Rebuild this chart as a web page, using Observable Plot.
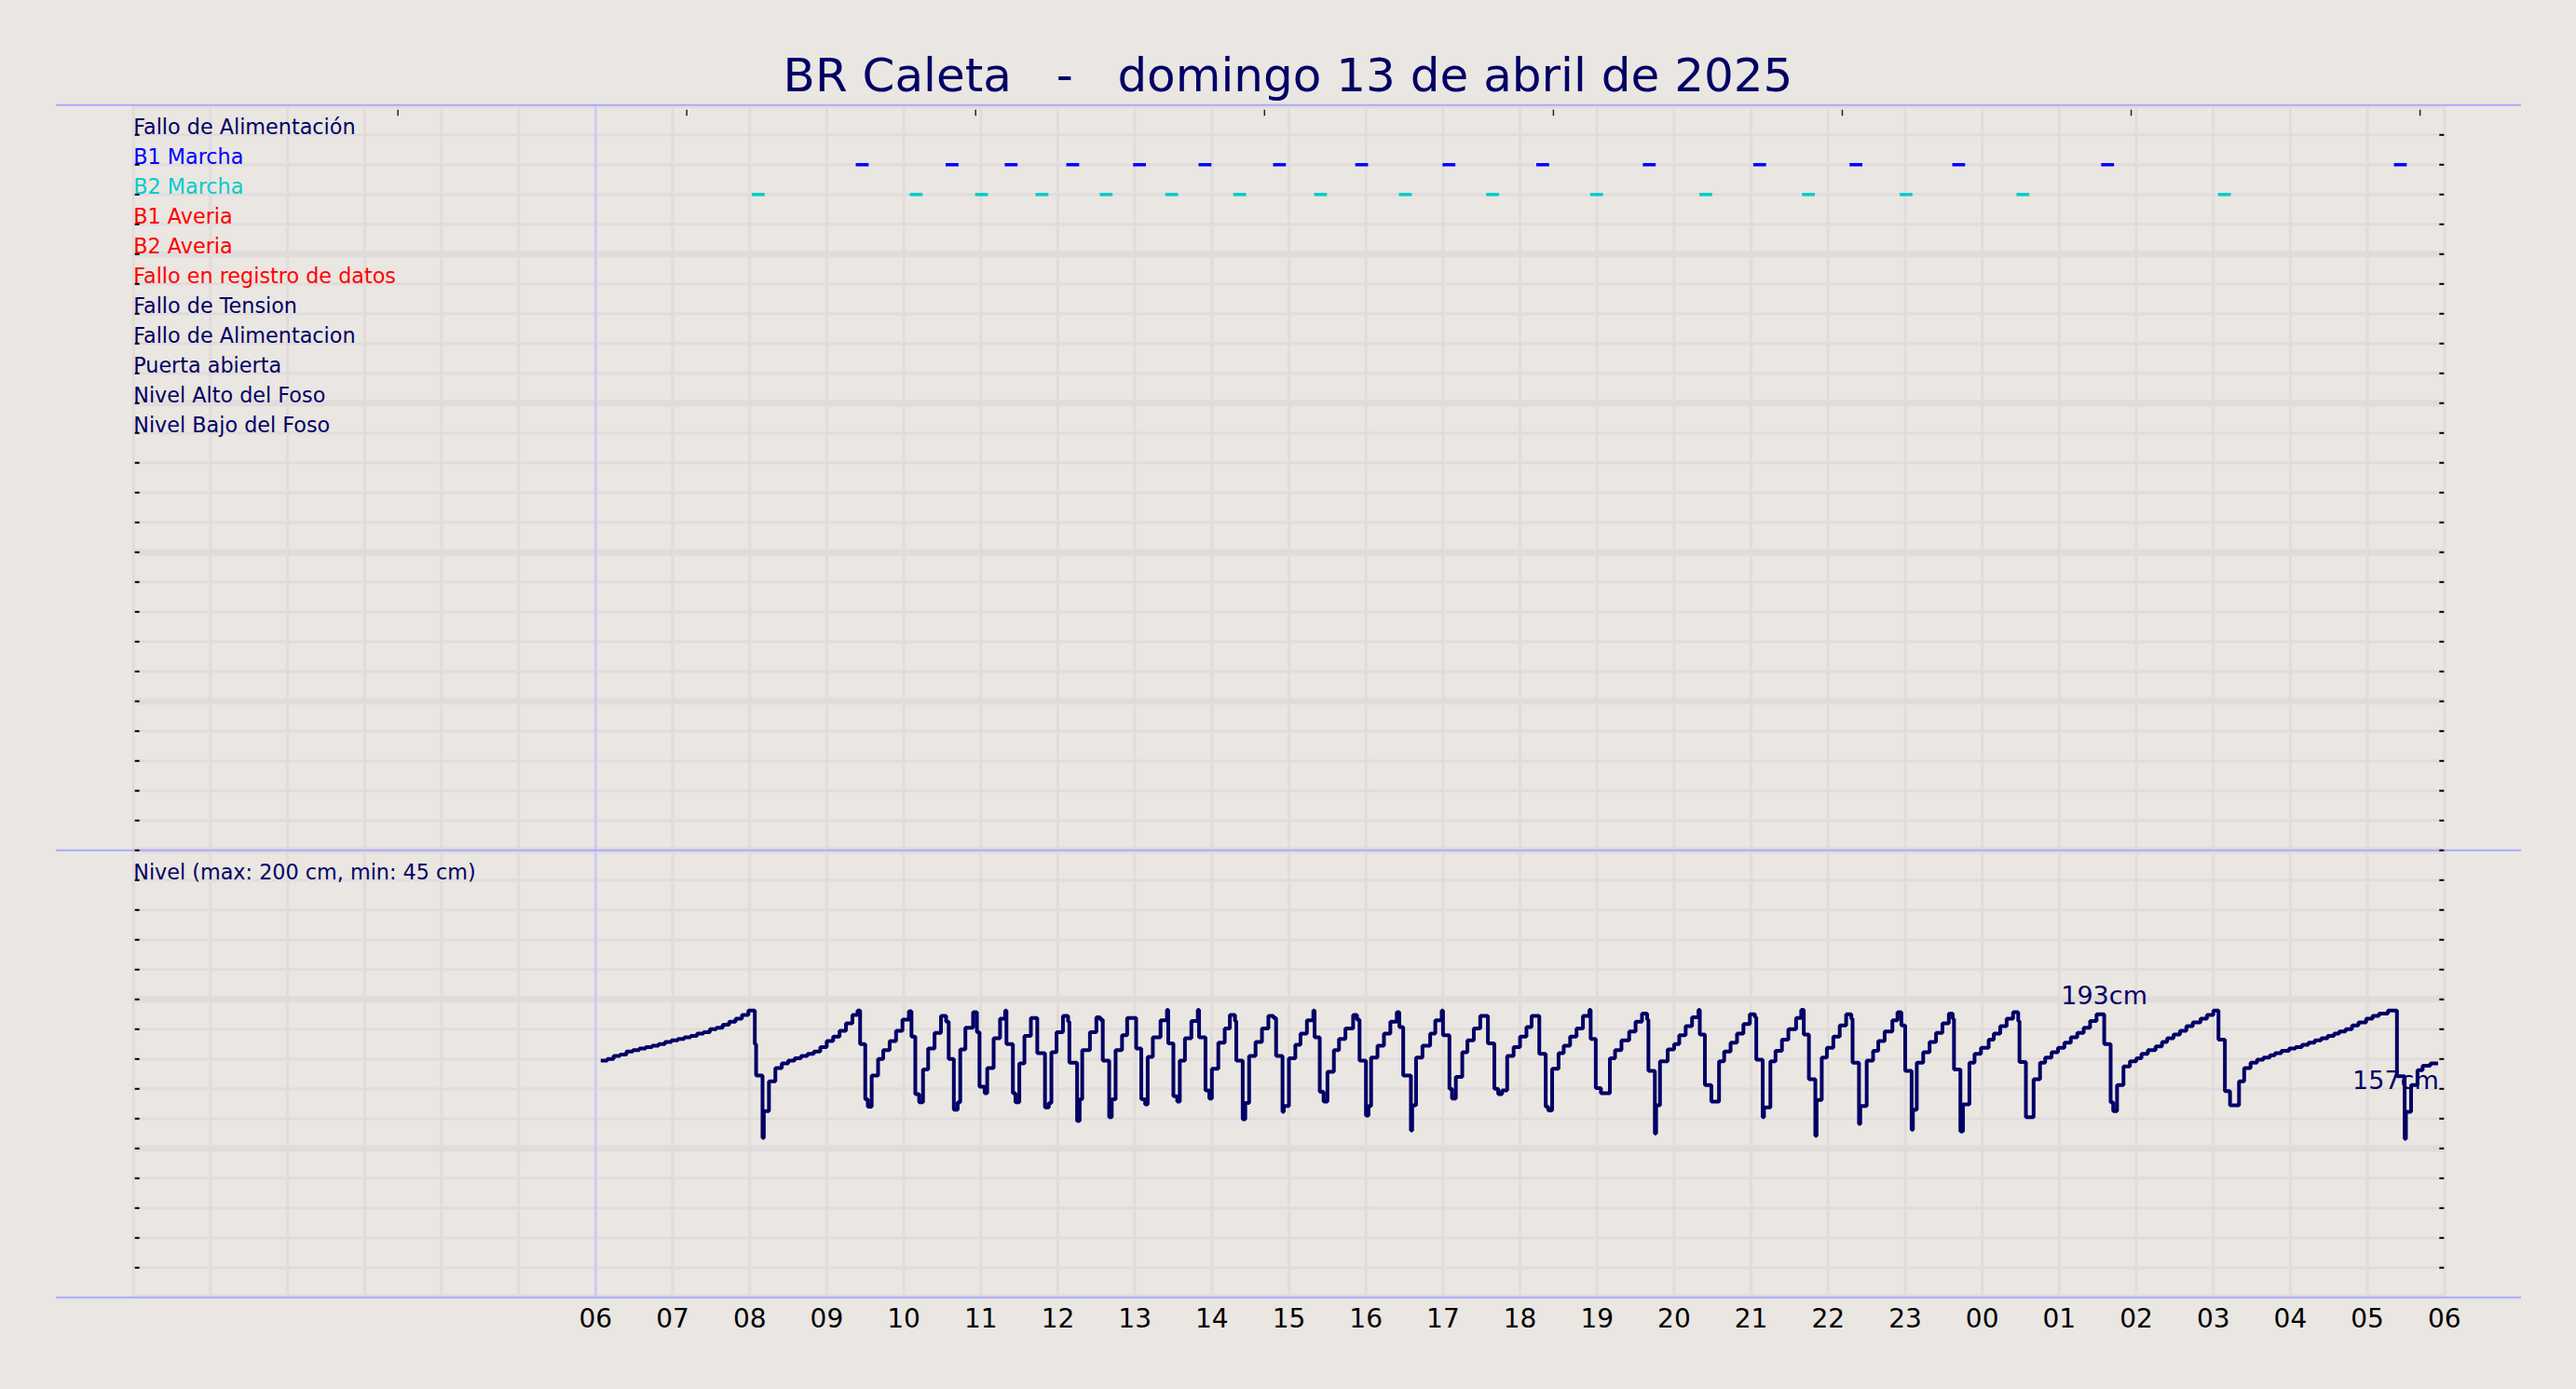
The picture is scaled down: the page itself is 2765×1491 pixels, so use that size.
<!DOCTYPE html>
<html>
<head>
<meta charset="utf-8">
<script src="https://cdn.jsdelivr.net/npm/d3@7"></script>
<script src="https://cdn.jsdelivr.net/npm/@observablehq/plot@0.6"></script>
<style>
html, body { margin: 0; padding: 0; background: #eae6e1; overflow: hidden; }
#titulo { height: 100px; box-sizing: border-box; padding-top: 52px; line-height: 58px;
  font-family: "DejaVu Sans"; font-size: 50px; color: #000066; text-align: center;
  white-space: pre; overflow: visible; }
#grafico svg { display: block; }
</style>
</head>
<body>
<div id="titulo"></div>
<div id="grafico"></div>
<script>
// ---------- data ----------
const titulo = "BR Caleta   -   domingo 13 de abril de 2025";

const filas = ["Fallo de Alimentación", "B1 Marcha", "B2 Marcha", "B1 Averia", "B2 Averia",
  "Fallo en registro de datos", "Fallo de Tension", "Fallo de Alimentacion", "Puerta abierta",
  "Nivel Alto del Foso", "Nivel Bajo del Foso"];
const colorFila = ["#000066", "#0000ff", "#00cccc", "#ff0000", "#ff0000", "#ff0000",
  "#000066", "#000066", "#000066", "#000066", "#000066"];
const etiquetaNivel = "Nivel (max: 200 cm, min: 45 cm)";

const b1Inicio = "09:23 10:33 11:19 12:07 12:59 13:50 14:48 15:52 17:00 18:13 19:36 21:02 22:17 23:37 01:33 05:21".split(" ");
const b1Fin    = "09:33 10:43 11:29 12:17 13:09 14:00 14:58 16:02 17:10 18:23 19:46 21:12 22:27 23:47 01:43 05:31".split(" ");
const b2Inicio = "08:02 10:05 10:56 11:43 12:33 13:24 14:17 15:20 16:26 17:34 18:55 20:20 21:40 22:56 00:27 03:04".split(" ");
const b2Fin    = "08:12 10:15 11:06 11:53 12:43 13:34 14:27 15:30 16:36 17:44 19:05 20:30 21:50 23:06 00:37 03:14".split(" ");

const nivelHora = [
  "06:04 06:09 06:14 06:19 06:24 06:29 06:34 06:39 06:44 06:49 06:54 06:59",
  "07:04 07:09 07:14 07:19 07:24 07:29 07:34 07:39 07:44 07:49 07:54 07:59",
  "08:04 08:05 08:10 08:11 08:15 08:20 08:25 08:30 08:35 08:40 08:45 08:50 08:55",
  "09:00 09:05 09:10 09:15 09:20 09:24 09:26 09:30 09:32 09:35 09:40 09:44 09:49 09:54 09:59",
  "10:04 10:06 10:09 10:12 10:15 10:19 10:24 10:29 10:33 10:35 10:39 10:42 10:44 10:48 10:54 10:57 10:59",
  "11:03 11:05 11:10 11:15 11:19 11:20 11:25 11:27 11:30 11:34 11:39 11:44 11:50 11:53 11:55 11:59",
  "12:04 12:08 12:09 12:15 12:17 12:19 12:25 12:30 12:33 12:35 12:40 12:42 12:45 12:50 12:54",
  "13:01 13:05 13:08 13:10 13:14 13:20 13:25 13:26 13:30 13:33 13:35 13:39 13:44 13:49 13:50 13:55 13:58",
  "14:00 14:05 14:10 14:14 14:18 14:19 14:24 14:26 14:29 14:34 14:39 14:44 14:48 14:50 14:55 14:56",
  "15:00 15:05 15:09 15:14 15:19 15:20 15:24 15:27 15:30 15:35 15:39 15:44 15:50 15:53 15:55",
  "16:00 16:02 16:04 16:09 16:14 16:19 16:24 16:26 16:29 16:35 16:36 16:39 16:44 16:50 16:54 16:59",
  "17:00 17:05 17:07 17:10 17:15 17:19 17:24 17:29 17:35 17:40 17:43 17:46 17:50 17:55",
  "18:00 18:05 18:09 18:15 18:20 18:22 18:25 18:30 18:34 18:39 18:44 18:49 18:54 18:55 18:59",
  "19:03 19:10 19:14 19:19 19:25 19:30 19:35 19:39 19:40 19:45 19:46 19:49 19:55",
  "20:00 20:04 20:09 20:14 20:19 20:20 20:24 20:29 20:35 20:39 20:44 20:49 20:54 20:59",
  "21:03 21:04 21:09 21:10 21:15 21:19 21:24 21:29 21:35 21:39 21:41 21:45 21:50 21:51 21:55 21:59",
  "22:04 22:09 22:14 22:18 22:19 22:24 22:25 22:30 22:35 22:39 22:44 22:50 22:54 22:57",
  "23:00 23:05 23:06 23:09 23:14 23:19 23:24 23:29 23:34 23:37 23:38 23:43 23:45 23:50 23:54 23:59",
  "00:05 00:09 00:14 00:19 00:24 00:28 00:29 00:34 00:40 00:45 00:49 00:54 00:59",
  "01:04 01:09 01:14 01:19 01:24 01:29 01:35 01:40 01:42 01:45 01:50 01:55",
  "02:00 02:04 02:09 02:15 02:20 02:24 02:29 02:34 02:39 02:44 02:50 02:55",
  "03:00 03:04 03:09 03:13 03:20 03:24 03:29 03:34 03:39 03:44 03:48 03:53 03:59",
  "04:04 04:09 04:14 04:19 04:24 04:29 04:34 04:38 04:43 04:48 04:53 04:59",
  "05:04 05:09 05:16 05:23 05:29 05:30 05:34 05:39 05:43 05:49 05:55"
].join(" ").split(" ");

const nivelCm = [
  159, 160, 162, 163, 165, 166, 167, 168, 169, 170, 171.5, 172.5,
  173.5, 174.5, 175.5, 177, 178, 180, 181, 183, 185, 187, 189.5, 192.5,
  170, 149, 107, 125, 145, 154, 157, 159, 160.5, 162, 163.5, 165, 168,
  172, 175, 179, 184, 189.5, 192.5, 170, 133, 128, 149, 160, 166, 172, 179, 186.5,
  192, 175, 136.5, 131, 153, 167, 177.5, 189, 185, 160, 126, 131, 166.5, 181, 191.5, 178, 141.5,
  137, 154, 174, 187, 192.5, 170, 137, 131, 157, 175.5, 187.5, 164, 127.5, 130.5, 164.5, 178,
  189, 185, 157.5, 118.5, 133, 166, 178, 188, 186.5, 159, 121, 133, 166, 176, 187.5,
  167, 133, 129.5, 161.5, 174.5, 186, 193, 170.5, 135, 131.5, 159, 174, 185.5, 193, 174.5, 139, 133.5,
  153.5, 171, 180.5, 189.5, 185.5, 159, 119.5, 130.5, 162, 171.5, 180.5, 189, 187.5, 162, 124.5, 128.5,
  160.5, 169.5, 177, 186, 192.5, 174.5, 138, 131.5, 151.5, 166, 173.5, 180.5, 189.5, 186.5, 159,
  122, 128.5, 161, 169, 177, 185, 191.5, 181.5, 149, 112, 129, 161, 169, 177, 186, 192.5,
  176, 140, 133.5, 148, 164.5, 172.5, 180.5, 189, 170.5, 140, 136.5, 139, 162, 168,
  175, 181.5, 189, 163.5, 128, 125.5, 153.5, 164, 169, 175, 180.5, 189, 193, 173.5, 140.5,
  137, 160.5, 166, 172.5, 178.5, 185, 190.5, 186.5, 152, 110, 129, 158.5, 166.5,
  170, 176, 182, 188, 193, 176.5, 142.5, 131.5, 158.5, 165, 171, 177, 183.5, 190,
  188, 159.5, 121, 127.5, 158.5, 165.5, 173, 180, 187.5, 193, 176.5, 146.5, 108.5, 132.5, 161, 167.5,
  175, 182.5, 190, 187, 157.5, 116.5, 128.5, 159, 165.5, 172, 178.5, 186, 191.5, 182.5,
  152, 112.5, 126, 157.5, 164.5, 171.5, 177.5, 184, 190.5, 187, 153, 111.5, 129.5, 157.5, 163.5, 167.5,
  173, 177, 182, 187, 191.5, 185.5, 158, 121, 146.5, 157.5, 161, 164.5, 167.5,
  171, 174.5, 177.5, 181, 185.5, 190, 170, 131, 125, 142.5, 155, 158.5,
  160.5, 163.5, 166, 168.5, 171.5, 174, 176.5, 179, 182, 184.5, 187, 189.5,
  192.5, 173, 138.5, 129, 145, 154, 157.5, 159.5, 161, 162.5, 164, 165.5, 167,
  168, 169.5, 171, 172.5, 174, 175.5, 177, 178.5, 180, 182.5, 184.5, 187,
  189, 190.5, 192.5, 148.5, 106.5, 124.5, 142.5, 152.5, 155.5, 157, 157
];

const maxHora = ["01:35"], maxCm = [193];
const ultHora = ["05:22"], ultCm = [157];

const horasEje = d3.range(6, 31);          // bottom tick labels 06 … 06
const marcasSup = "03:26 07:11 10:56 14:41 18:26 22:11 01:56 05:41".split(" ");

// ---------- helpers ----------
const dia = h => new Date(2025, 3, 13, h);
// the data day runs 06:00 → 06:00; times earlier than the previous one roll to the next day
function aFechas(horas, inicio = 360) {
  let d = 0, prev = inicio;
  return horas.map(s => {
    const [H, M] = s.split(":").map(Number);
    const m = H * 60 + M;
    if (m < prev) d++;
    prev = m;
    return new Date(2025, 3, 13 + d, H, M);
  });
}
const filaY = i => 780 - 20 * i;

document.getElementById("titulo").textContent = titulo;

const nivel = aFechas(nivelHora).map((t, i) => ({t, v: nivelCm[i]}));
const b1F = aFechas(b1Fin), b2F = aFechas(b2Fin);
const b1 = aFechas(b1Inicio).map((ini, i) => ({ini, fin: b1F[i]}));
const b2 = aFechas(b2Inicio).map((ini, i) => ({ini, fin: b2F[i]}));
const maxMarca = aFechas(maxHora).map((t, i) => ({t, v: maxCm[i]}));
const ultMarca = aFechas(ultHora).map((t, i) => ({t, v: ultCm[i]}));

const gridColor = "#e1dcdc";
const navy = "#000066";
const ticksY = d3.range(20, 781, 20);

const chart = Plot.plot({
  width: 2765,
  height: 1391,
  marginTop: 12.3,
  marginBottom: 98.7,
  marginLeft: 142.7,
  marginRight: 141.7,
  x: {type: "time", domain: [dia(0), dia(30)]},
  y: {domain: [0, 800]},
  color: {type: "identity"},
  style: {background: "transparent", fontFamily: "DejaVu Sans", overflow: "visible"},
  marks: [
    Plot.ruleY(d3.range(0, 801, 20).filter(v => v % 100 !== 0), {y: d => d, stroke: gridColor, strokeWidth: 3, clip: true}),
    Plot.ruleY(d3.range(0, 801, 100), {y: d => d, stroke: gridColor, strokeWidth: 7, clip: true}),
    Plot.ruleX(d3.range(0, 31).map(dia), {x: d => d, y1: 0, y2: 800, stroke: gridColor, strokeWidth: 3}),
    Plot.ruleX([dia(6)], {x: d => d, y1: 0, y2: 800, stroke: "#c4c4ff", strokeWidth: 2}),
    Plot.ruleY([800, 300, 0], {y: d => d, x1: () => dia(-1), x2: () => dia(31), stroke: "#aaaaff", strokeWidth: 2}),
    Plot.axisY(ticksY, {anchor: "left", tickSize: -5, insetLeft: 2, tickFormat: () => "", label: null, color: "black", strokeWidth: 2}),
    Plot.axisY(ticksY, {anchor: "right", tickSize: -5, insetRight: 1, tickFormat: () => "", label: null, color: "black", strokeWidth: 2}),
    Plot.axisX(aFechas(marcasSup, -1), {anchor: "top", tickSize: -6.6, insetTop: 4.4, tickFormat: () => "", label: null, color: "#222", strokeWidth: 1.5}),
    Plot.axisX(horasEje.map(dia), {anchor: "bottom", tickSize: 0, tickPadding: 12, tickFormat: d3.timeFormat("%H"), fontSize: 28, color: "black", label: null}),
    Plot.ruleY(b1, {x1: "ini", x2: "fin", y: () => filaY(1), stroke: "#0000ff", strokeWidth: 3.5}),
    Plot.ruleY(b2, {x1: "ini", x2: "fin", y: () => filaY(2), stroke: "#00cccc", strokeWidth: 3.5}),
    Plot.line(nivel, {x: "t", y: "v", curve: "step-after", stroke: navy, strokeWidth: 4, strokeLinejoin: "miter", strokeLinecap: "butt"}),
    Plot.text(filas, {x: () => dia(0), y: (d, i) => filaY(i), text: d => d, fill: (d, i) => colorFila[i],
      textAnchor: "start", lineAnchor: "bottom", dy: -1, fontSize: 22.3}),
    Plot.text([etiquetaNivel], {x: () => dia(0), y: () => filaY(25), text: d => d, fill: navy,
      textAnchor: "start", lineAnchor: "bottom", dy: -1, fontSize: 22.3}),
    Plot.text(maxMarca, {x: "t", y: "v", text: d => d.v + "cm", fill: navy, textAnchor: "middle", lineAnchor: "bottom", dy: -5.8, fontSize: 27}),
    Plot.text(ultMarca, {x: "t", y: "v", text: d => d.v + "cm", fill: navy, textAnchor: "middle", lineAnchor: "bottom", dy: 27.2, fontSize: 27})
  ]
});
document.getElementById("grafico").appendChild(chart);
</script>
</body>
</html>
